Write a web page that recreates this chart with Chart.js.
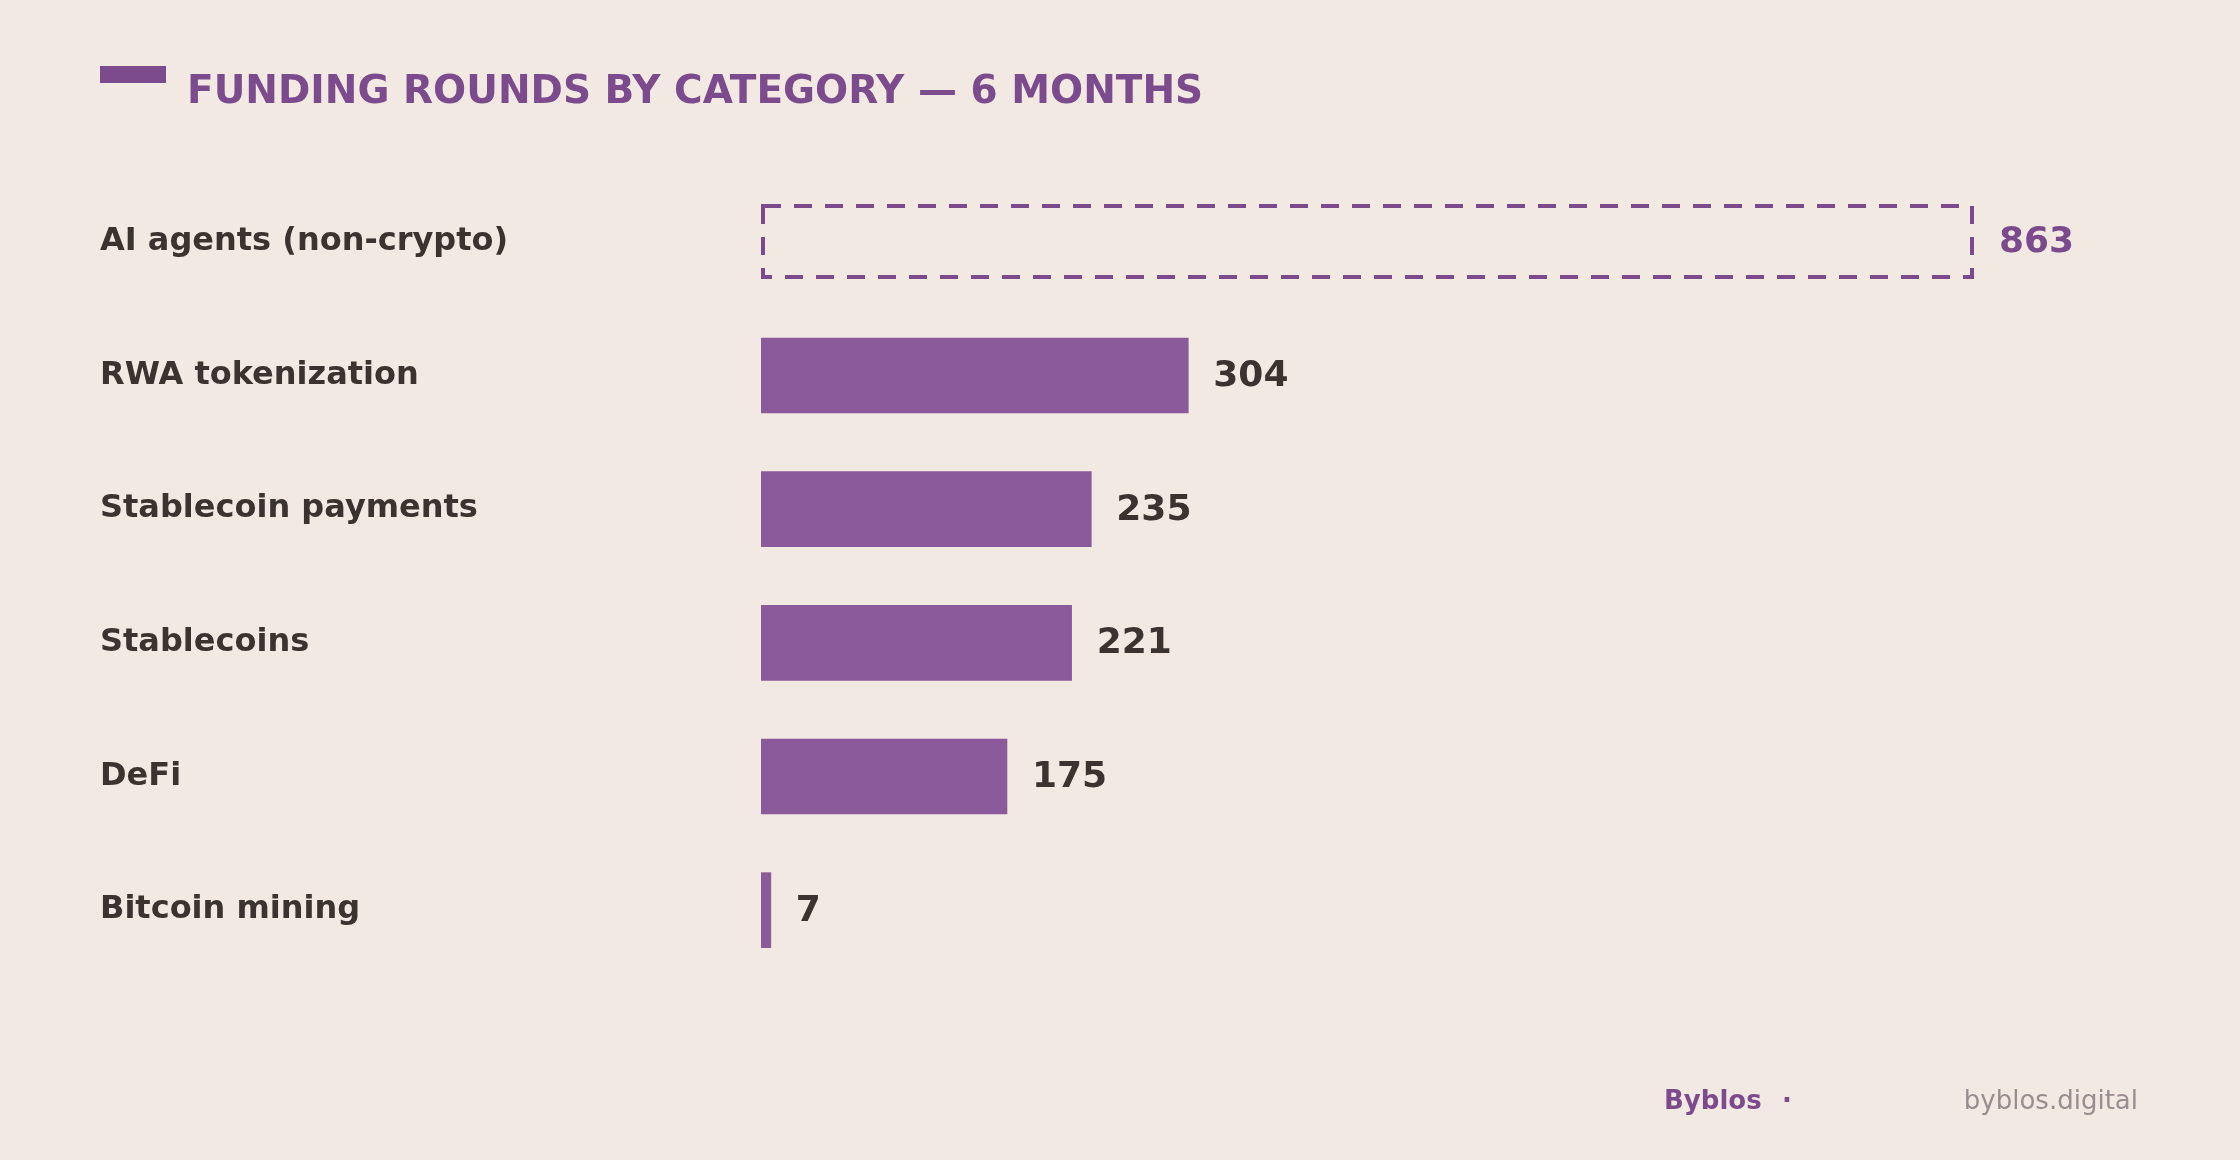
<!DOCTYPE html>
<html>
<head>
<meta charset="utf-8">
<script src="https://cdn.jsdelivr.net/npm/chart.js@4"></script>
<style>
  body { margin: 0; background: #F3E9E3; font-family: "DejaVu Sans", sans-serif; }
  #wrap { position: relative; width: 2240px; height: 1160px; }
  #chart { position: absolute; left: 0; top: 0; }
  .mark { position: absolute; left: 100px; top: 66px; width: 66px; height: 17px; background: #7B4B8D; }
  .title { position: absolute; left: 187px; top: 70px; font-size: 39px; line-height: 1; font-weight: bold; color: #7B4B8D; white-space: nowrap; }
  .foot { position: absolute; top: 1087px; font-size: 26px; line-height: 1; white-space: nowrap; }
</style>
</head>
<body>
<div id="wrap">
  <canvas id="chart" width="2240" height="1160"></canvas>
  <div class="mark"></div>
  <div class="title">FUNDING ROUNDS BY CATEGORY — 6 MONTHS</div>
  <div class="foot" style="left:1664px; font-weight:bold; color:#7B4B8D;">Byblos</div>
  <div class="foot" style="left:1782px; font-weight:bold; color:#7B4B8D;">·</div>
  <div class="foot" style="right:102px; color:#9A8C8F;">byblos.digital</div>
</div>
<script>
const categorias = ['AI agents (non-crypto)', 'RWA tokenization', 'Stablecoin payments', 'Stablecoins', 'DeFi', 'Bitcoin mining']
const rodadas = [863, 304, 235, 221, 175, 7]
// a primeira barra e so contorno tracejado (comparacao fora do cripto)
const destaque = [true, false, false, false, false, false]

const roxo = '#7B4A8C'
const roxoBarra = '#8B5A9B'
const escuro = '#3A3330'

// desenha o contorno tracejado e os valores no fim de cada barra
const rotulos = {
  id: 'rotulos',
  afterDatasetsDraw(chart) {
    const ctx = chart.ctx
    const meta = chart.getDatasetMeta(0)
    meta.data.forEach((bar, i) => {
      const p = bar.getProps(['x', 'y', 'base', 'height'], true)
      if (destaque[i]) {
        const x0 = Math.round(p.base) + 2
        const y0 = Math.round(p.y - p.height / 2) + 2
        const x1 = Math.round(p.x) - 2
        const y1 = Math.round(p.y + p.height / 2) - 2
        ctx.save()
        ctx.strokeStyle = roxo
        ctx.lineWidth = 4
        ctx.setLineDash([18, 13])
        ctx.strokeRect(x0, y0, x1 - x0, y1 - y0)
        ctx.restore()
      }
      ctx.save()
      ctx.font = 'bold 36px "DejaVu Sans"'
      ctx.fillStyle = destaque[i] ? roxo : escuro
      ctx.textAlign = 'left'
      ctx.textBaseline = 'middle'
      ctx.fillText(String(rodadas[i]), p.x + 25, p.y + 1)
      ctx.restore()
    })
  }
}

new Chart(document.getElementById('chart'), {
  type: 'bar',
  data: {
    labels: categorias,
    datasets: [{
      data: rodadas,
      backgroundColor: destaque.map(d => d ? 'rgba(0,0,0,0)' : roxoBarra),
      borderWidth: 0,
      barThickness: 75
    }]
  },
  options: {
    indexAxis: 'y',
    responsive: false,
    animation: false,
    layout: { padding: { left: 100, right: 266, top: 175, bottom: 183 } },
    plugins: { legend: { display: false }, tooltip: { enabled: false } },
    scales: {
      x: { display: false, min: 0, max: 863 },
      y: {
        afterFit: (scale) => { scale.width = 661 },
        grid: { display: false },
        border: { display: false },
        ticks: {
          crossAlign: 'far',
          color: escuro,
          font: { family: 'DejaVu Sans', size: 32, weight: 'bold' }
        }
      }
    }
  },
  plugins: [rotulos]
})
</script>
</body>
</html>
